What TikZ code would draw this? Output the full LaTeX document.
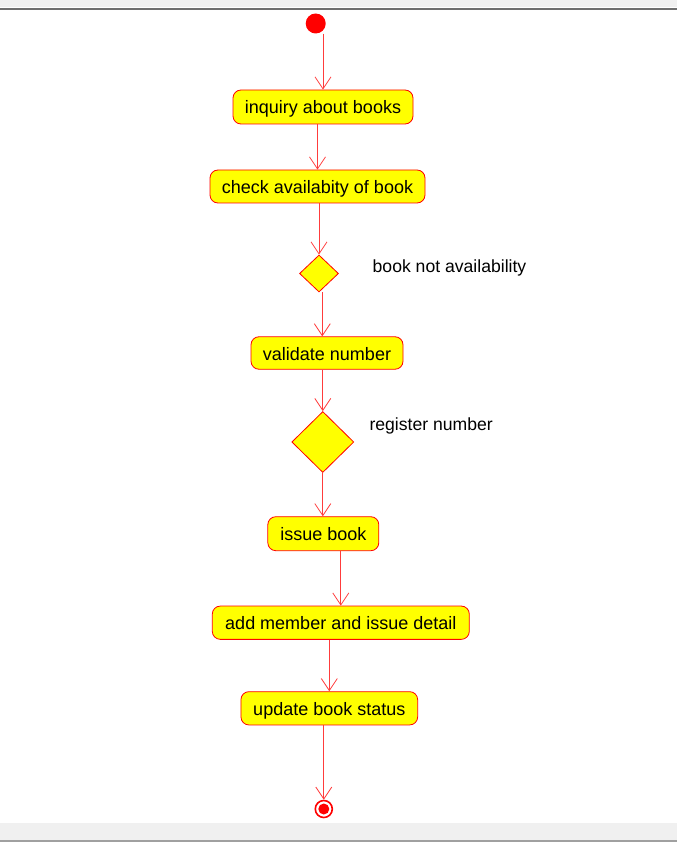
\documentclass[tikz,border=0pt]{standalone}
\usepackage{fontspec}
\setmainfont{Liberation Sans}
\usetikzlibrary{arrows.meta,shapes.geometric}
\definecolor{barg}{HTML}{F0F0F0}
\definecolor{bardk}{HTML}{6E6E6E}
\definecolor{barbt}{HTML}{A0A0A0}
\definecolor{linkred}{HTML}{FF3C3C}
\definecolor{actfill}{HTML}{FFFF00}
\tikzset{
  act/.style={draw=red, fill=actfill, rounded corners=8pt, line width=0.8pt,
    inner sep=0pt, text height=17pt, text depth=3pt,
    font=\fontsize{18}{20}\selectfont, text=black},
  decis/.style={draw=red, fill=actfill, diamond, inner sep=0pt, line width=0.8pt},
  arr/.style={draw=linkred, line width=0.8pt, -{Straight Barb[length=12pt,width=16pt,line width=0.8pt]}},
  lbl/.style={font=\fontsize{17.6}{20}\selectfont, text=black, inner sep=0pt, anchor=west},
}
\begin{document}
\begin{tikzpicture}[x=1pt,y=-1pt]
\useasboundingbox (0,0) rectangle (677,842);
% window bars
\fill[barg] (0,0) rectangle (677,7);
\fill[white] (0,7) rectangle (677,8.5);
\fill[bardk] (0,8.5) rectangle (677,10.5);
\fill[white] (0,821) rectangle (677,822.5);
\fill[barg] (0,822.5) rectangle (677,840);
\fill[barbt] (0,840) rectangle (677,842);
% start
\node[circle, fill=red, minimum size=20pt, inner sep=0pt] (s) at (315.7,23.5) {};
% activities
\node[act, minimum width=180pt, minimum height=34pt] (b1) at (323,107) {inquiry about books};
\node[act, minimum width=215pt, minimum height=33pt] (b2) at (317.5,186.5) {check availabity of book};
\node[decis, minimum width=39pt, minimum height=37pt] (d1) at (319,273.5) {};
\node[lbl] (l1) at (372.5,268) {book not availability};
\node[act, minimum width=152pt, minimum height=32.5pt] (b3) at (327,353) {validate number};
\node[decis, minimum width=62pt, minimum height=61pt] (d2) at (322.8,442) {};
\node[lbl] (l2) at (369.3,425.5) {register number};
\node[act, minimum width=111pt, minimum height=34pt] (b4) at (323.3,533.7) {issue book};
\node[act, minimum width=257pt, minimum height=33.3pt] (b5) at (340.8,622.7) {add member and issue detail};
\node[act, minimum width=176.7pt, minimum height=33.3pt] (b6) at (329.3,708.3) {update book status};
% end
\node[circle, draw=red, line width=1.6pt, fill=white, minimum size=17pt, inner sep=0pt] (e) at (323.8,809) {};
\node[circle, fill=red, minimum size=11pt, inner sep=0pt] (ei) at (e.center) {};
% flows
\draw[arr] (b1.north |- s.south) -- (b1.north);
\draw[arr] (b2.north |- b1.south) -- (b2.north);
\draw[arr] (d1.north |- b2.south) -- (d1.north);
\draw[arr] ([xshift=3.3pt]d1.south) -- ([xshift=3.3pt]d1.south |- b3.north);
\draw[arr] (d2.north |- b3.south) -- (d2.north);
\draw[arr] (d2.south) -- (d2.south |- b4.north);
\draw[arr] (b5.north |- b4.south) -- (b5.north);
\draw[arr] (b6.north |- b5.south) -- (b6.north);
\draw[arr] (e.north |- b6.south) -- (e.north);
\end{tikzpicture}
\end{document}
